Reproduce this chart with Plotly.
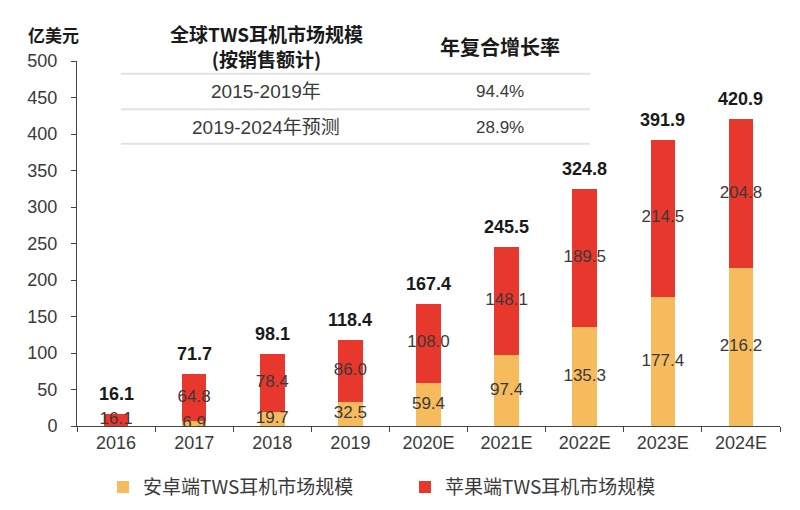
import plotly.graph_objects as go

# ---------------- data ----------------
categories = ["2016", "2017", "2018", "2019", "2020E", "2021E", "2022E", "2023E", "2024E"]
android = [0.0, 6.9, 19.7, 32.5, 59.4, 97.4, 135.3, 177.4, 216.2]
apple = [16.1, 64.8, 78.4, 86.0, 108.0, 148.1, 189.5, 214.5, 204.8]
totals = [16.1, 71.7, 98.1, 118.4, 167.4, 245.5, 324.8, 391.9, 420.9]
series_names = ["安卓端TWS耳机市场规模", "苹果端TWS耳机市场规模"]
y_unit = "亿美元"

table_header_lines = ["全球TWS耳机市场规模", "(按销售额计)"]
table_header_cagr = "年复合增长率"
table_periods = ["2015-2019年", "2019-2024年预测"]
table_cagr = ["94.4%", "28.9%"]

# ---------------- style ----------------
RED = "#E8372D"
ORANGE = "#F5BB5C"
FONT = "Liberation Sans, Noto Sans CJK SC, sans-serif"
CJK = "Noto Sans CJK SC, Liberation Sans, sans-serif"
TXT = "#3a3a3a"

W, H = 800, 510
L, R, T, B = 69, 28, 53, 87
PW, PH = W - L - R, H - T - B


def px(x):
    return (x - L) / PW


def py(y):
    return (H - B - y) / PH


fig = go.Figure()
fig.add_trace(go.Bar(x=categories, y=android, name=series_names[0],
                     marker=dict(color=ORANGE, line=dict(width=0))))
fig.add_trace(go.Bar(x=categories, y=apple, name=series_names[1],
                     marker=dict(color=RED, line=dict(width=0))))

# segment labels (centred in each segment)
and_mid = [a / 2 for a in android]
and_txt = [f"{a:.1f}" if a > 0 else "" for a in android]
app_mid = [a + b / 2 for a, b in zip(android, apple)]
app_txt = [f"{b:.1f}" for b in apple]
fig.add_trace(go.Scatter(x=categories, y=and_mid, text=and_txt, mode="text",
                         textposition="middle center", showlegend=False, hoverinfo="skip",
                         textfont=dict(family=FONT, size=17, color=TXT)))
fig.add_trace(go.Scatter(x=categories, y=app_mid, text=app_txt, mode="text",
                         textposition="middle center", showlegend=False, hoverinfo="skip",
                         textfont=dict(family=FONT, size=17, color=TXT)))

annotations = []
for i, t in enumerate(totals):
    annotations.append(dict(x=i, y=t, xref="x", yref="y", text=f"<b>{t:.1f}</b>",
                            showarrow=False, yanchor="middle", yshift=20,
                            font=dict(family=FONT, size=18, color="#1a1a1a")))

# unit label
annotations.append(dict(x=px(45), y=py(26), xref="paper", yref="paper", text=f"<b>{y_unit}</b>",
                        showarrow=False, xanchor="center", yanchor="middle",
                        font=dict(family=CJK, size=17, color="#1a1a1a")))

# table
col_x = [258, 492]
annotations.append(dict(x=px(col_x[0]), y=py(38), xref="paper", yref="paper",
                        text="<br>".join(f"<b>{s}</b>" for s in table_header_lines),
                        showarrow=False, xanchor="center", yanchor="middle", align="center",
                        font=dict(family=CJK, size=19, color="#1a1a1a")))
annotations.append(dict(x=px(col_x[1]), y=py(38), xref="paper", yref="paper",
                        text=f"<b>{table_header_cagr}</b>",
                        showarrow=False, xanchor="center", yanchor="middle",
                        font=dict(family=CJK, size=20, color="#1a1a1a")))
row_y = [84, 120]
for ry, p, g in zip(row_y, table_periods, table_cagr):
    annotations.append(dict(x=px(col_x[0]), y=py(ry), xref="paper", yref="paper", text=p,
                            showarrow=False, xanchor="center", yanchor="middle",
                            font=dict(family=FONT, size=19, color=TXT)))
    annotations.append(dict(x=px(col_x[1]), y=py(ry), xref="paper", yref="paper", text=g,
                            showarrow=False, xanchor="center", yanchor="middle",
                            font=dict(family=FONT, size=17, color=TXT)))

shapes = []
for ly in [66, 102, 137]:
    shapes.append(dict(type="line", xref="paper", yref="paper",
                       x0=px(113), x1=px(582), y0=py(ly), y1=py(ly),
                       line=dict(color="#e2e2e2", width=2)))

fig.update_layout(
    width=W, height=H,
    margin=dict(l=L, r=R, t=T, b=B, pad=0),
    barmode="stack", bargap=0.686,
    plot_bgcolor="white", paper_bgcolor="white",
    font=dict(family=FONT, size=18, color=TXT),
    showlegend=True,
    legend=dict(orientation="h", x=px(95), y=py(485), xanchor="left", yanchor="middle",
                entrywidth=257, entrywidthmode="pixels",
                font=dict(family=CJK, size=19, color=TXT), traceorder="normal",
                bgcolor="rgba(0,0,0,0)"),
    annotations=annotations,
    shapes=shapes,
)
fig.update_xaxes(type="category", range=[-0.5, len(categories) - 0.5], autorange=False,
                 showline=True, linecolor="#444", linewidth=1,
                 ticks="outside", tickson="boundaries", ticklen=5, tickcolor="#444",
                 tickfont=dict(family=FONT, size=18, color=TXT), showgrid=False,
                 zeroline=False, fixedrange=True)
fig.update_yaxes(range=[0, 500], dtick=50, showline=True, linecolor="#444", linewidth=1,
                 ticks="outside", ticklen=5, tickcolor="#444", ticklabelstandoff=10,
                 tickfont=dict(family=FONT, size=18, color=TXT), showgrid=False,
                 zeroline=False, fixedrange=True)

fig.write_html("out.html")
